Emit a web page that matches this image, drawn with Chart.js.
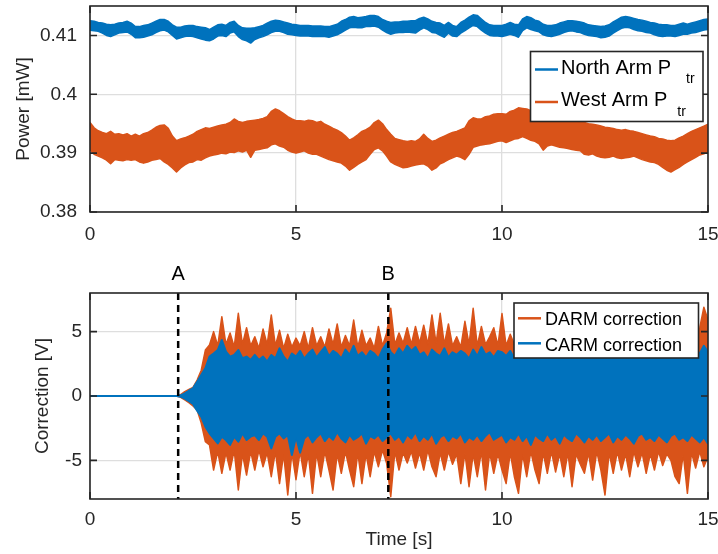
<!DOCTYPE html>
<html>
<head>
<meta charset="utf-8">
<script src="https://cdn.jsdelivr.net/npm/chart.js@4"></script>
<style>
  body { margin: 0; background: #fff; }
  #wrap { position: relative; width: 718px; height: 554px; }
  canvas { position: absolute; left: 0; }
</style>
</head>
<body>
<div id="wrap">
  <canvas id="powerChart" width="718" height="250" style="top:0px"></canvas>
  <canvas id="corrChart" width="718" height="304" style="top:250px"></canvas>
</div>
<script>
// sample grid, 0.1 s steps from 0 to 15 s
const times = Array.from({ length: 151 }, (_, i) => i / 10);
const timeTicks = [0, 5, 10, 15];
const powerTicks = [0.38, 0.39, 0.4, 0.41];
const corrTicks = [-5, 0, 5];
const markerTimes = [2.14, 7.24];
const markerLabels = ['A', 'B'];
const powerSeries = ['North Arm P', 'West Arm P'];
const corrSeries = ['DARM correction', 'CARM correction'];

// transmitted power, upper / lower edge of the noise band [mW]
const northHi = [
  .4125, .4124, .4122, .4121, .4119, .4118, .4119, .4121, .4122, .4124,
  .4121, .4115, .4115, .4117, .4118, .4121, .4124, .4127, .4127, .4124,
  .4118, .4114, .4114, .4116, .4117, .4117, .4115, .4114, .4113, .4110,
  .4114, .4118, .4119, .4117, .4122, .4124, .4117, .4113, .4112, .4112,
  .4113, .4115, .4117, .4121, .4124, .4126, .4125, .4123, .4121, .4119,
  .4118, .4117, .4117, .4117, .4116, .4116, .4116, .4115, .4115, .4117,
  .4119, .4124, .4127, .4131, .4132, .4130, .4131, .4132, .4134, .4134,
  .4132, .4127, .4124, .4122, .4123, .4123, .4124, .4124, .4125, .4125,
  .4129, .4131, .4128, .4124, .4122, .4121, .4117, .4122, .4117, .4115,
  .4122, .4126, .4131, .4135, .4134, .4128, .4122, .4118, .4117, .4117,
  .4117, .4119, .4122, .4119, .4118, .4128, .4132, .4130, .4126, .4124,
  .4119, .4117, .4117, .4118, .4121, .4123, .4125, .4125, .4124, .4123,
  .4121, .4118, .4117, .4116, .4115, .4116, .4118, .4123, .4127, .4131,
  .4132, .4131, .4129, .4127, .4126, .4124, .4122, .4121, .4119, .4118,
  .4118, .4117, .4117, .4119, .4121, .4119, .4121, .4123, .4125, .4127,
  .4128
];
const northLo = [
  .4109, .4108, .4107, .4104, .4100, .4098, .4101, .4104, .4105, .4106,
  .4102, .4096, .4096, .4097, .4099, .4101, .4105, .4108, .4109, .4106,
  .4100, .4094, .4096, .4098, .4099, .4098, .4096, .4094, .4092, .4091,
  .4094, .4099, .4100, .4098, .4104, .4106, .4098, .4093, .4091, .4087,
  .4093, .4096, .4098, .4101, .4105, .4107, .4107, .4105, .4102, .4101,
  .4100, .4099, .4099, .4099, .4098, .4098, .4098, .4098, .4097, .4099,
  .4101, .4105, .4109, .4113, .4114, .4113, .4113, .4115, .4115, .4116,
  .4114, .4109, .4105, .4102, .4104, .4105, .4105, .4106, .4105, .4104,
  .4109, .4113, .4110, .4105, .4104, .4100, .4097, .4104, .4099, .4098,
  .4104, .4108, .4113, .4117, .4115, .4109, .4104, .4100, .4099, .4099,
  .4098, .4100, .4102, .4100, .4097, .4108, .4113, .4110, .4108, .4106,
  .4101, .4099, .4098, .4100, .4102, .4105, .4107, .4108, .4106, .4105,
  .4102, .4100, .4099, .4098, .4096, .4097, .4099, .4104, .4108, .4112,
  .4114, .4113, .4110, .4108, .4107, .4105, .4104, .4101, .4099, .4098,
  .4099, .4099, .4098, .4100, .4102, .4102, .4104, .4105, .4107, .4109,
  .4110
];
const westHi = [
  .3952, .3943, .3938, .3935, .3933, .3937, .3932, .3933, .3931, .3933,
  .3929, .3932, .3929, .3933, .3935, .3939, .3944, .3947, .3948, .3942,
  .3929, .3921, .3924, .3926, .3929, .3932, .3937, .3940, .3943, .3942,
  .3944, .3946, .3948, .3949, .3952, .3958, .3954, .3952, .3954, .3955,
  .3956, .3957, .3959, .3962, .3971, .3975, .3972, .3967, .3962, .3958,
  .3955, .3955, .3954, .3956, .3955, .3952, .3954, .3949, .3946, .3942,
  .3939, .3935, .3929, .3922, .3926, .3931, .3937, .3940, .3944, .3952,
  .3956, .3950, .3940, .3932, .3925, .3923, .3921, .3920, .3921, .3920,
  .3924, .3932, .3925, .3920, .3922, .3926, .3929, .3932, .3935, .3937,
  .3940, .3943, .3955, .3960, .3958, .3958, .3962, .3963, .3966, .3967,
  .3967, .3966, .3971, .3973, .3977, .3976, .3975, .3972, .3969, .3967,
  .3966, .3963, .3960, .3959, .3958, .3956, .3955, .3954, .3955, .3952,
  .3952, .3950, .3949, .3948, .3946, .3944, .3943, .3942, .3940, .3939,
  .3940, .3938, .3937, .3935, .3933, .3931, .3929, .3928, .3925, .3924,
  .3922, .3921, .3922, .3926, .3929, .3933, .3937, .3940, .3943, .3946,
  .3949
];
const westLo = [
  .3906, .3898, .3895, .3892, .3888, .3882, .3889, .3888, .3887, .3889,
  .3888, .3889, .3885, .3883, .3885, .3888, .3889, .3891, .3885, .3881,
  .3875, .3868, .3875, .3880, .3884, .3885, .3889, .3888, .3892, .3895,
  .3897, .3898, .3900, .3899, .3902, .3901, .3904, .3902, .3905, .3893,
  .3905, .3906, .3908, .3909, .3914, .3916, .3912, .3910, .3905, .3902,
  .3900, .3902, .3904, .3900, .3898, .3898, .3895, .3892, .3889, .3887,
  .3885, .3883, .3878, .3871, .3876, .3881, .3885, .3889, .3898, .3906,
  .3909, .3904, .3895, .3885, .3881, .3878, .3875, .3876, .3878, .3880,
  .3881, .3882, .3878, .3871, .3875, .3882, .3885, .3889, .3892, .3895,
  .3893, .3889, .3898, .3910, .3912, .3914, .3915, .3916, .3918, .3920,
  .3921, .3918, .3921, .3924, .3925, .3928, .3925, .3922, .3920, .3916,
  .3905, .3912, .3914, .3912, .3910, .3909, .3908, .3906, .3905, .3904,
  .3898, .3897, .3899, .3895, .3893, .3892, .3893, .3895, .3892, .3891,
  .3892, .3893, .3895, .3892, .3889, .3887, .3885, .3884, .3881, .3876,
  .3871, .3868, .3872, .3876, .3881, .3885, .3889, .3893, .3897, .3899,
  .3902
];

// correction signals, upper / lower edge [V]
const darmHi = [
  0, 0, 0, 0, 0, 0, 0, 0, 0, 0,
  0, 0, 0, 0, 0, 0, 0, 0, 0, 0,
  0, 0, 0.1, 0.34, 0.52, 0.67, 1.24, 2.0, 3.57, 3.96,
  5.0, 3.9, 6.16, 4.0, 4.9, 3.8, 6.42, 4.0, 5.3, 3.9,
  4.6, 3.7, 5.2, 4.0, 6.3, 3.9, 5.1, 3.7, 4.8, 3.8,
  4.5, 3.9, 5.0, 3.7, 5.3, 3.9, 4.6, 3.8, 5.2, 4.0,
  5.6, 3.8, 4.7, 3.9, 5.9, 3.8, 5.1, 3.9, 4.5, 3.7,
  5.4, 3.9, 4.9, 6.81, 4.0, 4.9, 4.1, 5.3, 4.0, 5.4,
  4.1, 5.5, 4.0, 6.3, 4.1, 6.42, 4.0, 5.6, 3.9, 4.6,
  3.8, 5.8, 4.0, 6.81, 3.9, 5.4, 4.0, 4.6, 5.3, 3.9,
  6.4, 3.9, 4.8, 4.0, 5.2, 3.9, 5.5, 4.0, 4.8, 3.8,
  5.6, 4.0, 4.9, 3.9, 5.3, 4.0, 5.8, 3.9, 4.7, 4.0,
  5.4, 3.8, 5.0, 4.0, 6.0, 3.9, 4.6, 4.0, 5.2, 3.8,
  5.5, 4.0, 4.8, 3.9, 5.7, 4.0, 4.9, 3.8, 5.3, 4.0,
  4.7, 3.9, 5.5, 4.0, 5.0, 3.9, 5.4, 4.0, 5.3, 6.9,
  5.9
];
const darmLo = [
  0, 0, 0, 0, 0, 0, 0, 0, 0, 0,
  0, 0, 0, 0, 0, 0, 0, 0, 0, 0,
  0, 0, -0.1, -0.31, -0.52, -0.78, -1.09, -2.1, -3.55, -3.8,
  -5.75, -4.3, -6.0, -4.4, -5.75, -4.2, -7.3, -4.5, -6.14, -4.3,
  -5.75, -4.2, -5.5, -4.4, -6.27, -4.3, -6.8, -4.5, -7.69, -4.4,
  -6.5, -4.3, -6.27, -4.5, -7.56, -4.4, -6.27, -4.3, -5.75, -7.3,
  -4.5, -6.0, -4.3, -5.75, -7.04, -4.4, -6.8, -4.5, -6.27, -4.3,
  -5.49, -4.2, -5.23, -7.82, -4.3, -5.75, -4.4, -5.2, -4.3, -5.6,
  -4.4, -5.75, -4.2, -5.5, -6.27, -4.4, -5.75, -4.3, -5.3, -4.5,
  -6.8, -4.4, -7.04, -4.5, -6.27, -4.3, -7.3, -4.4, -6.0, -4.5,
  -5.75, -6.8, -4.4, -6.27, -7.56, -4.5, -6.27, -4.3, -5.75, -6.8,
  -4.4, -6.0, -4.3, -5.9, -4.5, -6.27, -4.4, -7.04, -4.5, -5.3,
  -6.0, -4.4, -6.53, -4.3, -5.75, -7.69, -4.4, -6.0, -4.3, -5.75,
  -4.5, -6.27, -4.3, -5.5, -4.4, -6.0, -4.5, -5.75, -4.3, -5.4,
  -4.5, -5.0, -6.27, -6.8, -4.5, -7.56, -4.4, -5.6, -4.3, -5.5,
  -4.7
];
const carmHi = [
  0, 0, 0, 0, 0, 0, 0, 0, 0, 0,
  0, 0, 0, 0, 0, 0, 0, 0, 0, 0,
  0, 0, 0.05, 0.2, 0.41, 0.6, 1.11, 1.63, 2.15, 3.06,
  3.3, 3.57, 4.35, 3.45, 3.06, 3.19, 3.57, 2.93, 3.06, 2.8,
  3.19, 2.8, 3.06, 2.67, 3.19, 2.93, 3.7, 3.06, 2.67, 3.3,
  3.06, 3.5, 2.9, 3.3, 3.6, 3.0, 3.4, 3.8, 3.1, 3.5,
  3.3, 2.9, 3.6, 3.2, 3.9, 3.1, 3.4, 3.0, 3.5, 3.3,
  2.9, 3.6, 4.1, 3.4, 3.1, 3.7, 3.3, 3.9, 3.5, 3.8,
  3.2, 3.4, 2.9, 3.6, 3.3, 3.1, 3.7, 3.0, 3.4, 3.2,
  3.5, 3.3, 2.9, 3.6, 3.1, 3.8, 3.2, 3.4, 3.0, 3.5,
  3.4, 3.1, 3.5, 2.9, 3.3, 3.6, 3.0, 3.4, 3.2, 3.7,
  3.1, 3.4, 2.9, 3.5, 3.2, 3.6, 3.0, 3.3, 3.5, 3.1,
  3.4, 2.9, 3.6, 3.2, 3.0, 3.5, 3.3, 3.7, 3.1, 3.4,
  3.2, 2.9, 3.5, 3.3, 3.6, 3.0, 3.4, 3.2, 3.5, 3.1,
  3.3, 3.6, 3.0, 3.4, 3.2, 3.7, 3.1, 3.5, 3.3, 3.9,
  3.4
];
const carmLo = [
  0, 0, 0, 0, 0, 0, 0, 0, 0, 0,
  0, 0, 0, 0, 0, 0, 0, 0, 0, 0,
  0, 0, -0.05, -0.2, -0.41, -0.62, -1.14, -1.61, -2.38, -2.9,
  -3.29, -3.68, -3.16, -3.42, -3.8, -3.16, -3.55, -2.9, -3.42, -3.16,
  -3.03, -3.42, -2.9, -3.16, -4.07, -3.16, -2.9, -3.29, -3.03, -4.58,
  -3.16, -4.4, -3.3, -3.0, -3.6, -3.2, -2.9, -3.5, -3.1, -3.4,
  -2.8, -3.3, -3.6, -3.0, -3.4, -3.2, -2.9, -3.7, -3.1, -3.3,
  -3.0, -3.5, -3.2, -2.9, -3.4, -3.1, -3.6, -3.0, -3.3, -2.8,
  -3.5, -3.1, -3.4, -2.9, -3.7, -3.2, -3.0, -3.5, -3.1, -3.3,
  -2.9, -3.6, -3.2, -3.4, -3.0, -3.5, -3.1, -2.8, -3.4, -3.2,
  -3.0, -3.6, -3.2, -3.4, -2.9, -3.5, -3.1, -3.8, -3.0, -3.3,
  -3.5, -2.9, -3.4, -3.1, -3.7, -3.0, -3.3, -3.5, -2.9, -3.2,
  -3.6, -3.1, -3.4, -3.0, -3.5, -3.2, -2.9, -3.6, -3.1, -3.4,
  -3.0, -3.3, -3.7, -3.1, -2.9, -3.4, -3.2, -3.5, -3.0, -3.3,
  -3.6, -3.1, -2.9, -3.4, -3.2, -3.5, -3.0, -3.3, -3.6, -3.2,
  -3.7
];

const FONT = '"Liberation Sans", Arial, Helvetica, sans-serif';
const INK = '#262626';
const GRID = '#dedede';
const BLUE = '#0072BD';
const ORANGE = '#D95319';
const axisFont = { family: FONT, size: 19 };

function band(label, values, color, width, fill) {
  return {
    label: label,
    data: values,
    borderColor: color,
    backgroundColor: color,
    borderWidth: width,
    borderJoinStyle: 'round',
    pointRadius: 0,
    tension: 0,
    fill: fill
  };
}

function drawLegend(ctx, lg) {
  ctx.save();
  ctx.fillStyle = '#fff';
  ctx.fillRect(lg.x, lg.y, lg.w, lg.h);
  ctx.strokeStyle = INK;
  ctx.lineWidth = 1.6;
  ctx.strokeRect(lg.x, lg.y, lg.w, lg.h);
  lg.items.forEach(it => {
    ctx.strokeStyle = it.color;
    ctx.lineWidth = 2.5;
    ctx.beginPath();
    ctx.moveTo(lg.lineX[0], it.lineY);
    ctx.lineTo(lg.lineX[1], it.lineY);
    ctx.stroke();
    ctx.fillStyle = '#000';
    ctx.textAlign = 'left';
    ctx.textBaseline = 'alphabetic';
    ctx.font = lg.size + 'px ' + FONT;
    ctx.fillText(it.text, lg.textX, it.baseY);
    if (it.sub) {
      const end = lg.textX + ctx.measureText(it.text).width;
      ctx.font = lg.subSize + 'px ' + FONT;
      ctx.fillText(it.sub, end + it.subGap, it.subBase);
    }
  });
  ctx.restore();
}

const matlabFrame = {
  id: 'matlabFrame',
  afterDatasetsDraw(chart, args, o) {
    if (!o.markers) return;
    const { ctx, chartArea: a, scales: { x } } = chart;
    markerTimes.forEach((t, i) => {
      const p = x.getPixelForValue(t);
      ctx.save();
      ctx.strokeStyle = '#000';
      ctx.lineWidth = 2.5;
      ctx.setLineDash([7, 5]);
      ctx.beginPath();
      ctx.moveTo(p, a.top);
      ctx.lineTo(p, a.bottom);
      ctx.stroke();
      ctx.setLineDash([]);
      ctx.fillStyle = '#000';
      ctx.font = '20px ' + FONT;
      ctx.textAlign = 'center';
      ctx.textBaseline = 'middle';
      ctx.fillText(markerLabels[i], p, a.top - 19);
      ctx.restore();
    });
  },
  afterDraw(chart, args, o) {
    const { ctx, chartArea: a, scales: { x, y } } = chart;
    ctx.save();
    ctx.strokeStyle = INK;
    ctx.lineWidth = 1.6;
    ctx.strokeRect(a.left, a.top, a.right - a.left, a.bottom - a.top);
    ctx.beginPath();
    x.ticks.forEach(t => {
      const p = x.getPixelForValue(t.value);
      ctx.moveTo(p, a.bottom); ctx.lineTo(p, a.bottom - 7);
      ctx.moveTo(p, a.top); ctx.lineTo(p, a.top + 7);
    });
    y.ticks.forEach(t => {
      const p = y.getPixelForValue(t.value);
      ctx.moveTo(a.left, p); ctx.lineTo(a.left + 7, p);
      ctx.moveTo(a.right, p); ctx.lineTo(a.right - 7, p);
    });
    ctx.stroke();
    ctx.restore();
    drawLegend(ctx, o.legend);
  }
};

function scalesFor(yTicks, yMin, yMax, o) {
  return {
    x: {
      type: 'linear', min: 0, max: 15,
      afterBuildTicks: s => { s.ticks = timeTicks.map(v => ({ value: v })); },
      afterFit: s => { s.height = o.xHeight; s.paddingLeft = 0; s.paddingRight = 0; },
      grid: { color: GRID, lineWidth: 1.3, drawTicks: false },
      border: { display: false },
      ticks: { font: axisFont, color: INK, padding: o.xPad, maxRotation: 0, callback: v => String(v) },
      title: o.xTitle
        ? { display: true, text: o.xTitle, font: axisFont, color: INK, padding: { top: 0, bottom: o.xTitlePad } }
        : { display: false }
    },
    y: {
      type: 'linear', min: yMin, max: yMax,
      afterBuildTicks: s => { s.ticks = yTicks.map(v => ({ value: v })); },
      afterFit: s => { s.width = 90; s.paddingTop = 0; s.paddingBottom = 0; },
      grid: { color: GRID, lineWidth: 1.3, drawTicks: false },
      border: { display: false },
      ticks: { font: axisFont, color: INK, padding: o.yPad, callback: v => String(v) },
      title: { display: true, text: o.yTitle, font: axisFont, color: INK, padding: { top: o.yTitlePad, bottom: 0 } }
    }
  };
}

function baseOptions(padTop, scales, frame) {
  return {
    responsive: false,
    animation: false,
    events: [],
    layout: { padding: { top: padTop, right: 10, left: 0, bottom: 0 } },
    plugins: { legend: { display: false }, tooltip: { enabled: false }, matlabFrame: frame },
    scales: scales
  };
}

new Chart(document.getElementById('powerChart'), {
  type: 'line',
  data: {
    labels: times,
    datasets: [
      band(powerSeries[0], northHi, BLUE, 1.5, '+1'),
      band(powerSeries[0], northLo, BLUE, 1.5, false),
      band(powerSeries[1], westHi, ORANGE, 1.5, '+1'),
      band(powerSeries[1], westLo, ORANGE, 1.5, false)
    ]
  },
  options: baseOptions(6,
    scalesFor(powerTicks, 0.38, 0.415, { xHeight: 38, xPad: 11, yPad: 13, yTitle: 'Power [mW]', yTitlePad: 12.6 }),
    {
      markers: false,
      legend: {
        x: 530.5, y: 51.5, w: 172.5, h: 70, size: 20, subSize: 14,
        lineX: [535, 558], textX: 561,
        items: [
          { text: powerSeries[0], sub: 'tr', color: BLUE, lineY: 69.5, baseY: 73.5, subGap: 15, subBase: 83 },
          { text: powerSeries[1], sub: 'tr', color: ORANGE, lineY: 102, baseY: 106, subGap: 10, subBase: 116 }
        ]
      }
    })
  ,
  plugins: [matlabFrame]
});

new Chart(document.getElementById('corrChart'), {
  type: 'line',
  data: {
    labels: times,
    datasets: [
      band(corrSeries[1], carmHi, BLUE, 2, '+1'),
      band(corrSeries[1], carmLo, BLUE, 2, false),
      band(corrSeries[0], darmHi, ORANGE, 1.5, '+1'),
      band(corrSeries[0], darmLo, ORANGE, 1.5, false)
    ]
  },
  options: baseOptions(43,
    scalesFor(corrTicks, -8, 8, { xHeight: 55, xPad: 9, yPad: 8, xTitle: 'Time [s]', xTitlePad: 2.6, yTitle: 'Correction [V]', yTitlePad: 31.6 }),
    {
      markers: true,
      legend: {
        x: 514, y: 53, w: 184.5, h: 55, size: 18,
        lineX: [518, 541], textX: 545,
        items: [
          { text: corrSeries[0], color: ORANGE, lineY: 68.3, baseY: 75 },
          { text: corrSeries[1], color: BLUE, lineY: 93.3, baseY: 100.7 }
        ]
      }
    }),
  plugins: [matlabFrame]
});
</script>
</body>
</html>
